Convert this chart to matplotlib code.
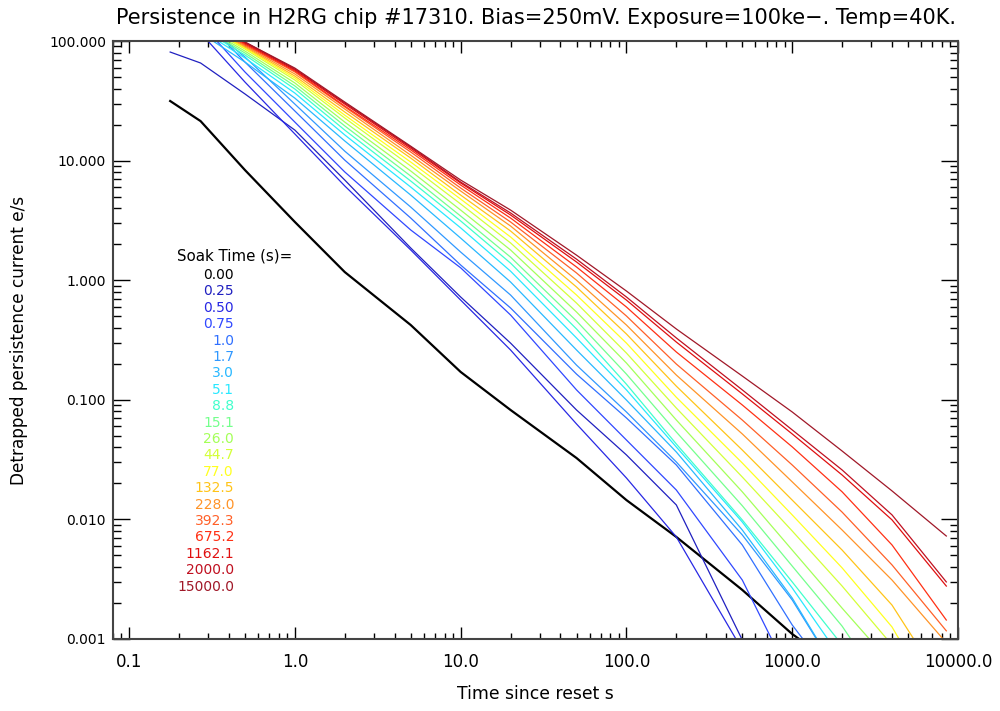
import matplotlib
matplotlib.use("Agg")
import matplotlib.pyplot as plt
from matplotlib.ticker import LogLocator, FixedLocator, FixedFormatter, NullFormatter

# Sample times after reset (s)
times = [0.177, 0.27, 0.5, 1, 2, 5, 10, 20, 50, 100, 200, 500, 1000, 2000, 4000, 8500]

soak_labels = ["0.00", "0.25", "0.50", "0.75", "1.0", "1.7", "3.0", "5.1", "8.8",
               "15.1", "26.0", "44.7", "77.0", "132.5", "228.0", "392.3", "675.2",
               "1162.1", "2000.0", "15000.0"]

soak_colors = ["#000000", "#2020c0", "#2828e4", "#3048ff", "#3070ff", "#3098ff",
               "#28b8ff", "#28e8ff", "#40ffcc", "#74ff8c", "#a4ff58", "#d4ff38",
               "#ffff20", "#ffc418", "#ff9428", "#ff6028", "#ff3014", "#e01010",
               "#c01020", "#a01828"]

# Detrapped persistence current (e/s) for each soak time
current_0p00 = [31.5, 21.4, 8.34, 3.07, 1.17, 0.422, 0.171, 0.0822, 0.0326, 0.0145,
                0.00713, 0.00257, 0.00110, 0.00055]
current_0p25 = [80.9, 65.5, 36.1, 18.0, 6.88, 1.86, 0.724, 0.298, 0.0822, 0.0346,
                0.0132, 0.00098, 0.0002]
current_0p50 = [229, 117, 45.4, 16.7, 6.14, 1.79, 0.682, 0.261, 0.0628, 0.0222,
                0.00713, 0.00081]
current_0p75 = [257, 141, 55.1, 21.0, 8.04, 2.63, 1.27, 0.512, 0.121, 0.0461,
                0.0176, 0.00311, 0.00045]
current_1p0 = [277, 162, 66.7, 26.0, 10.1, 3.31, 1.34, 0.586, 0.164, 0.0705,
               0.0285, 0.00611, 0.00131, 0.00037]
current_1p7 = [247, 147, 73.5, 29.7, 12.0, 4.09, 1.72, 0.752, 0.195, 0.0791,
               0.0302, 0.00741, 0.00212, 0.00045]
current_3p0 = [168, 117, 66.7, 33.3, 14.6, 5.15, 2.25, 0.966, 0.261, 0.0995,
               0.0366, 0.00815, 0.00220, 0.00045]
current_5p1 = [175, 124, 72.1, 36.7, 16.4, 6.01, 2.74, 1.19, 0.329, 0.121,
               0.0403, 0.00950, 0.00267, 0.00067]
current_8p8 = [178, 128, 76.4, 39.7, 18.0, 6.75, 3.13, 1.39, 0.391, 0.135,
               0.0427, 0.00989, 0.00300, 0.00089]
current_15p1 = [182, 133, 79.4, 42.1, 19.5, 7.43, 3.44, 1.56, 0.456, 0.164,
                0.0538, 0.0130, 0.00407, 0.00128, 0.00031]
current_26p0 = [185, 136, 82.4, 44.6, 21.0, 8.19, 3.86, 1.79, 0.542, 0.203,
                0.0678, 0.0170, 0.00554, 0.00181, 0.00061]
current_44p7 = [189, 139, 85.7, 47.2, 22.7, 9.02, 4.34, 2.05, 0.644, 0.246,
                0.0853, 0.0226, 0.00800, 0.00277, 0.00089]
current_77p0 = [192, 141, 87.3, 49.1, 24.0, 9.73, 4.77, 2.30, 0.752, 0.298,
                0.105, 0.0296, 0.0109, 0.00393, 0.00126, 0.00021]
current_132p5 = [196, 144, 89.1, 50.9, 25.5, 10.5, 5.15, 2.58, 0.877, 0.355,
                 0.130, 0.0380, 0.0145, 0.00554, 0.00192, 0.000375]
current_228p0 = [200, 147, 90.8, 53.0, 27.0, 11.1, 5.57, 2.84, 1.00, 0.422,
                 0.161, 0.0518, 0.0206, 0.00815, 0.00311, 0.00093]
current_392p3 = [200, 150, 92.6, 55.1, 28.1, 11.8, 5.90, 3.07, 1.15, 0.502,
                 0.199, 0.0677, 0.0285, 0.0115, 0.00416, 0.00117]
current_675p2 = [204, 153, 94.4, 56.1, 28.6, 12.3, 6.25, 3.31, 1.29, 0.597,
                 0.251, 0.0905, 0.0404, 0.0170, 0.00611, 0.00144]
current_1162p1 = [205, 154, 96.2, 57.3, 29.7, 12.7, 6.50, 3.51, 1.42, 0.682,
                  0.304, 0.112, 0.0518, 0.0235, 0.0099, 0.00277]
current_2000p0 = [208, 156, 98.0, 58.3, 30.3, 13.0, 6.62, 3.65, 1.50, 0.724,
                  0.329, 0.121, 0.0560, 0.0259, 0.0109, 0.00300]
current_15000p0 = [208, 156, 98.0, 59.4, 30.9, 13.2, 6.88, 3.86, 1.62, 0.812,
                   0.391, 0.158, 0.0791, 0.0373, 0.0173, 0.00726]

curves = [current_0p00, current_0p25, current_0p50, current_0p75, current_1p0,
          current_1p7, current_3p0, current_5p1, current_8p8, current_15p1,
          current_26p0, current_44p7, current_77p0, current_132p5, current_228p0,
          current_392p3, current_675p2, current_1162p1, current_2000p0,
          current_15000p0]

x_ticks = [0.1, 1, 10, 100, 1000, 10000]
x_tick_labels = ["0.1", "1.0", "10.0", "100.0", "1000.0", "10000.0"]
y_ticks = [0.001, 0.01, 0.1, 1, 10, 100]
y_tick_labels = ["0.001", "0.010", "0.100", "1.000", "10.000", "100.000"]

plt.rcParams["font.family"] = ["DejaVu Sans"]

fig = plt.figure(figsize=(10, 7.11), dpi=100)
ax = fig.add_axes([0.113, 0.1013, 0.845, 0.841])

for vals, col, lab in zip(curves, soak_colors, soak_labels):
    lw = 1.6 if lab == "0.00" else 0.9
    ax.plot(times[:len(vals)], vals, color=col, lw=lw, solid_joinstyle="round")

ax.set_xscale("log")
ax.set_yscale("log")
ax.set_xlim(0.08, 10000)
ax.set_ylim(0.001, 100)

ax.xaxis.set_major_locator(FixedLocator(x_ticks))
ax.xaxis.set_major_formatter(FixedFormatter(x_tick_labels))
ax.yaxis.set_major_locator(FixedLocator(y_ticks))
ax.yaxis.set_major_formatter(FixedFormatter(y_tick_labels))
ax.xaxis.set_minor_locator(LogLocator(base=10, subs=range(2, 10), numticks=20))
ax.yaxis.set_minor_locator(LogLocator(base=10, subs=range(2, 10), numticks=20))
ax.xaxis.set_minor_formatter(NullFormatter())
ax.yaxis.set_minor_formatter(NullFormatter())

ax.tick_params(which="both", direction="in", top=True, right=True, width=1,
               colors="black")
ax.tick_params(axis="x", which="major", length=8.6, pad=10, labelsize=12)
ax.tick_params(axis="x", which="minor", length=4.3)
ax.tick_params(axis="y", which="major", length=12.2, pad=5, labelsize=10)
ax.tick_params(axis="y", which="minor", length=6.1)
for sp in ax.spines.values():
    sp.set_color("#444444")
    sp.set_linewidth(1.5)

ax.set_xlabel("Time since reset s", fontsize=12.4, labelpad=10)
ax.set_ylabel("Detrapped persistence current e/s", fontsize=12.2, labelpad=15)
ax.set_title("Persistence in H2RG chip #17310. Bias=250mV. Exposure=100ke\u2212. Temp=40K.",
             fontsize=15, pad=12)

# Soak-time key, one coloured line of text per curve
fig.text(0.235, 1 - 256 / 711, "Soak Time (s)=", fontsize=10.8, ha="center", va="center")
for i, (lab, col) in enumerate(zip(soak_labels, soak_colors)):
    fig.text(0.234, 1 - (275 + 16.4 * i) / 711, lab, color=col, fontsize=10,
             ha="right", va="center")

fig.savefig("out.png", dpi=100)
